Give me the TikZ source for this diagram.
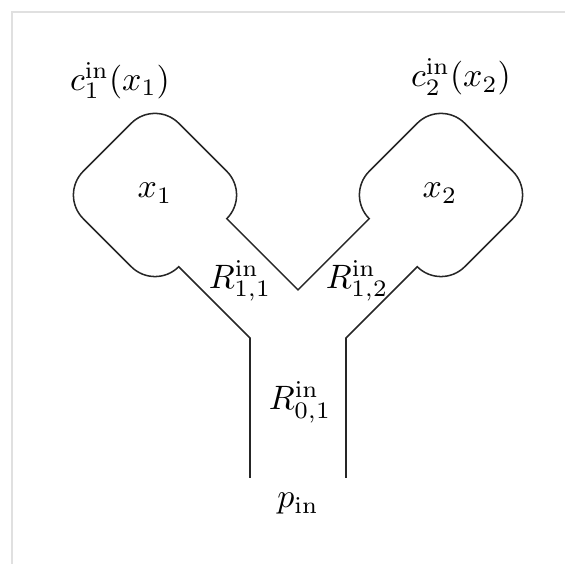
\documentclass[tikz,border=0pt]{standalone}
\begin{document}
\begin{tikzpicture}[x=0.2956pt,y=0.2956pt,
  wall/.style={line width=0.45pt, line join=miter, black!85},
  lbl/.style={anchor=base, inner sep=0pt},
  frame/.style={line width=0.6pt, black!12}]
\useasboundingbox (0,0) rectangle (565,564);
\draw[frame] (12,0) -- (12,552) -- (565,552);
\coordinate (BLe) at (250,86);
\coordinate (BL) at (250,225.92);
\coordinate (N1b) at (178.69,297.23);
\coordinate (V) at (298,274.08);
\coordinate (N2l) at (369.23,345.31);
\coordinate (BR) at (346,225.92);
\coordinate (BRe) at (346,86);
\draw[wall] (BLe) -- (BL) -- (N1b)
 arc[start angle=-45,end angle=-135,radius=33.5] -- ++(135:68)
 arc[start angle=225,end angle=135,radius=33.5] -- ++(45:68)
 arc[start angle=135,end angle=45,radius=33.5] -- ++(-45:68)
 arc[start angle=45,end angle=-45,radius=33.5] -- (V) -- (N2l)
 arc[start angle=225,end angle=135,radius=33.5] -- ++(45:68)
 arc[start angle=135,end angle=45,radius=33.5] -- ++(-45:68)
 arc[start angle=45,end angle=-45,radius=33.5] -- ++(225:68)
 arc[start angle=-45,end angle=-135,radius=33.5] -- (BR) -- (BRe);
\node[lbl] (c1) at (120,473.5) {$c_1^{\mathrm{in}}(x_1)$};
\node[lbl] (c2) at (461,477) {$c_2^{\mathrm{in}}(x_2)$};
\node[lbl] (x1) at (155,366) {$x_1$};
\node[lbl] (x2) at (440,366) {$x_2$};
\node[lbl] (r11) at (240,275.7) {$R_{1,1}^{\mathrm{in}}$};
\node[lbl] (r12) at (357,275.7) {$R_{1,2}^{\mathrm{in}}$};
\node[lbl] (r01) at (300,154) {$R_{0,1}^{\mathrm{in}}$};
\node[lbl] (pin) at (298,56) {$p_{\mathrm{in}}$};
\end{tikzpicture}
\end{document}
